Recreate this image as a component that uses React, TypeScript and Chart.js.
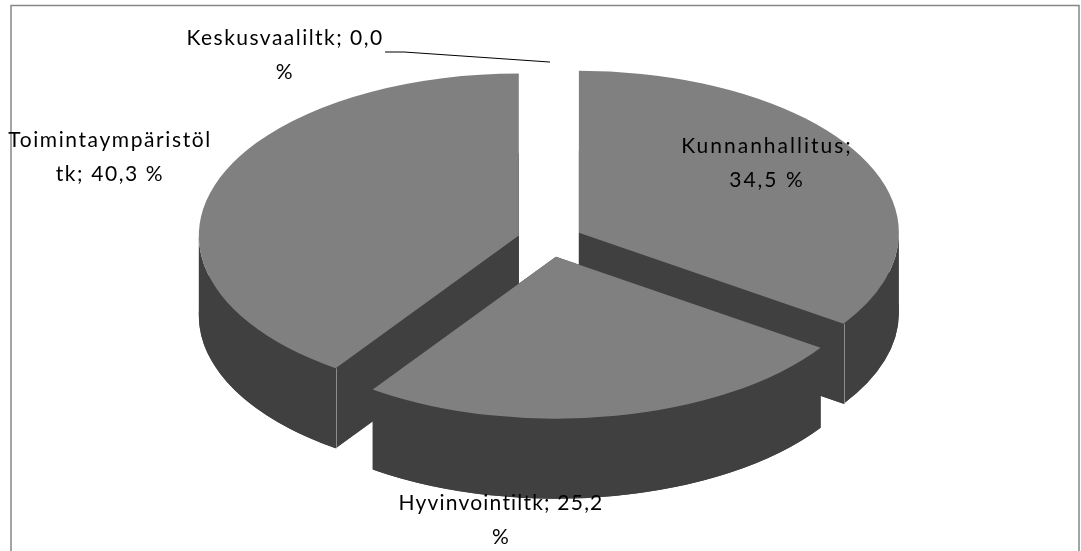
import React, { useEffect, useRef } from "react";
import { Chart, registerables } from "chart.js";

Chart.register(...registerables);

const categories = ["Kunnanhallitus", "Hyvinvointiltk", "Toimintaympäristöltk", "Keskusvaaliltk"];
const shares = [34.5, 25.2, 40.3, 0.0];
const labelLines = [
  ["Kunnanhallitus;", "34,5 %"],
  ["Hyvinvointiltk; 25,2", "%"],
  ["Toimintaympäristöl", "tk; 40,3 %"],
  ["Keskusvaaliltk; 0,0", "%"],
];
const labelAnchors = [
  [767, 146],
  [501, 503],
  [110, 140],
  [285, 38],
];
const labelSpacing = [2, 1.2, 1.6, 1.47];

const TILT = 0.506;
const DEPTH = 80;
const TOP = "#808080";
const WALL = "#404040";

const pie3d = {
  id: "pie3d",
  beforeDraw(chart: any) {
    const ctx = chart.ctx;
    ctx.save();
    ctx.strokeStyle = "#868686";
    ctx.lineWidth = 1.5;
    ctx.beginPath();
    ctx.moveTo(11, 552);
    ctx.lineTo(11, 5.5);
    ctx.lineTo(1079, 5.5);
    ctx.lineTo(1079, 552);
    ctx.stroke();
    ctx.restore();
  },
  beforeDatasetDraw(chart: any, args: any) {
    const ctx = chart.ctx;
    const elements: any[] = args.meta.data;
    const parts = elements.map((el) => {
      const p = el.getProps(["x", "y", "startAngle", "endAngle", "outerRadius"], true);
      const mid = (p.startAngle + p.endAngle) / 2;
      const off = el.options.offset || 0;
      return {
        cx: p.x + Math.cos(mid) * off,
        cy: p.y + Math.sin(mid) * off * TILT,
        start: p.startAngle,
        end: p.endAngle,
        r: p.outerRadius,
      };
    });
    const trace = (s: any, dy: number) => {
      ctx.beginPath();
      ctx.moveTo(s.cx, s.cy + dy);
      ctx.ellipse(s.cx, s.cy + dy, s.r, s.r * TILT, 0, s.start, s.end);
      ctx.closePath();
    };
    const rim = (s: any, a: number) => [s.cx + Math.cos(a) * s.r, s.cy + Math.sin(a) * s.r * TILT];
    const drawn = parts.filter((s) => s.end - s.start > 0).sort((a, b) => a.cy - b.cy);
    ctx.save();
    for (const s of drawn) {
      ctx.fillStyle = WALL;
      // bottom face
      trace(s, DEPTH);
      ctx.fill();
      // the two cut faces
      for (const a of [s.start, s.end]) {
        const [x, y] = rim(s, a);
        ctx.beginPath();
        ctx.moveTo(s.cx, s.cy);
        ctx.lineTo(x, y);
        ctx.lineTo(x, y + DEPTH);
        ctx.lineTo(s.cx, s.cy + DEPTH);
        ctx.closePath();
        ctx.fill();
      }
      // the curved outer wall: only the part that faces the viewer
      const wallStart = Math.max(s.start, 0);
      const wallEnd = Math.min(s.end, Math.PI);
      if (wallEnd > wallStart) {
        ctx.beginPath();
        ctx.ellipse(s.cx, s.cy, s.r, s.r * TILT, 0, wallStart, wallEnd);
        ctx.ellipse(s.cx, s.cy + DEPTH, s.r, s.r * TILT, 0, wallEnd, wallStart, true);
        ctx.closePath();
        ctx.fill();
      }
      // thin edge where a visible cut face meets the outer wall
      ctx.strokeStyle = "#8c8c8c";
      ctx.lineWidth = 1;
      const corner = (a: number) => {
        const [x0, y] = rim(s, a);
        const x = Math.round(x0) + 0.5;
        ctx.beginPath();
        ctx.moveTo(x, y);
        ctx.lineTo(x, y + DEPTH);
        ctx.stroke();
      };
      if (Math.sin(s.end) > 0 && Math.cos(s.end) > 0) corner(s.end);
      if (Math.sin(s.start) > 0 && Math.cos(s.start) < 0) corner(s.start);
      ctx.fillStyle = TOP;
      trace(s, 0);
      ctx.fill();
    }
    // leader line of the empty slice
    const empty = parts[3];
    ctx.strokeStyle = "#000000";
    ctx.lineWidth = 1;
    ctx.beginPath();
    ctx.moveTo(385, 52);
    ctx.lineTo(404, 52);
    ctx.lineTo(empty.cx, empty.cy - empty.r * TILT);
    ctx.stroke();
    // data labels
    ctx.fillStyle = "#000000";
    ctx.font = '21px Lato, "Open Sans", sans-serif';
    ctx.textAlign = "center";
    ctx.textBaseline = "middle";
    labelLines.forEach((lines, i) => {
      const [x, y] = labelAnchors[i];
      (ctx as any).letterSpacing = labelSpacing[i] + "px";
      lines.forEach((line, j) => ctx.fillText(line, x, y + j * 34));
    });
    ctx.restore();
    return false;
  },
};

export default function App() {
  const ref = useRef<HTMLCanvasElement>(null);
  useEffect(() => {
    document.body.style.margin = "0";
    document.body.style.background = "#ffffff";
    const chart = new Chart(ref.current as HTMLCanvasElement, {
      type: "pie",
      data: {
        labels: categories,
        datasets: [
          {
            data: shares,
            backgroundColor: TOP,
            borderWidth: 0,
            offset: 32.7,
          } as any,
        ],
      },
      options: {
        responsive: false,
        animation: false,
        radius: 320,
        layout: { padding: { left: 19, bottom: 70 } },
        plugins: { legend: { display: false }, tooltip: { enabled: false } },
      } as any,
      plugins: [pie3d],
    });
    return () => chart.destroy();
  }, []);
  return <canvas ref={ref} width={1081} height={551} style={{ display: "block", width: 1081, height: 551 }} />;
}
